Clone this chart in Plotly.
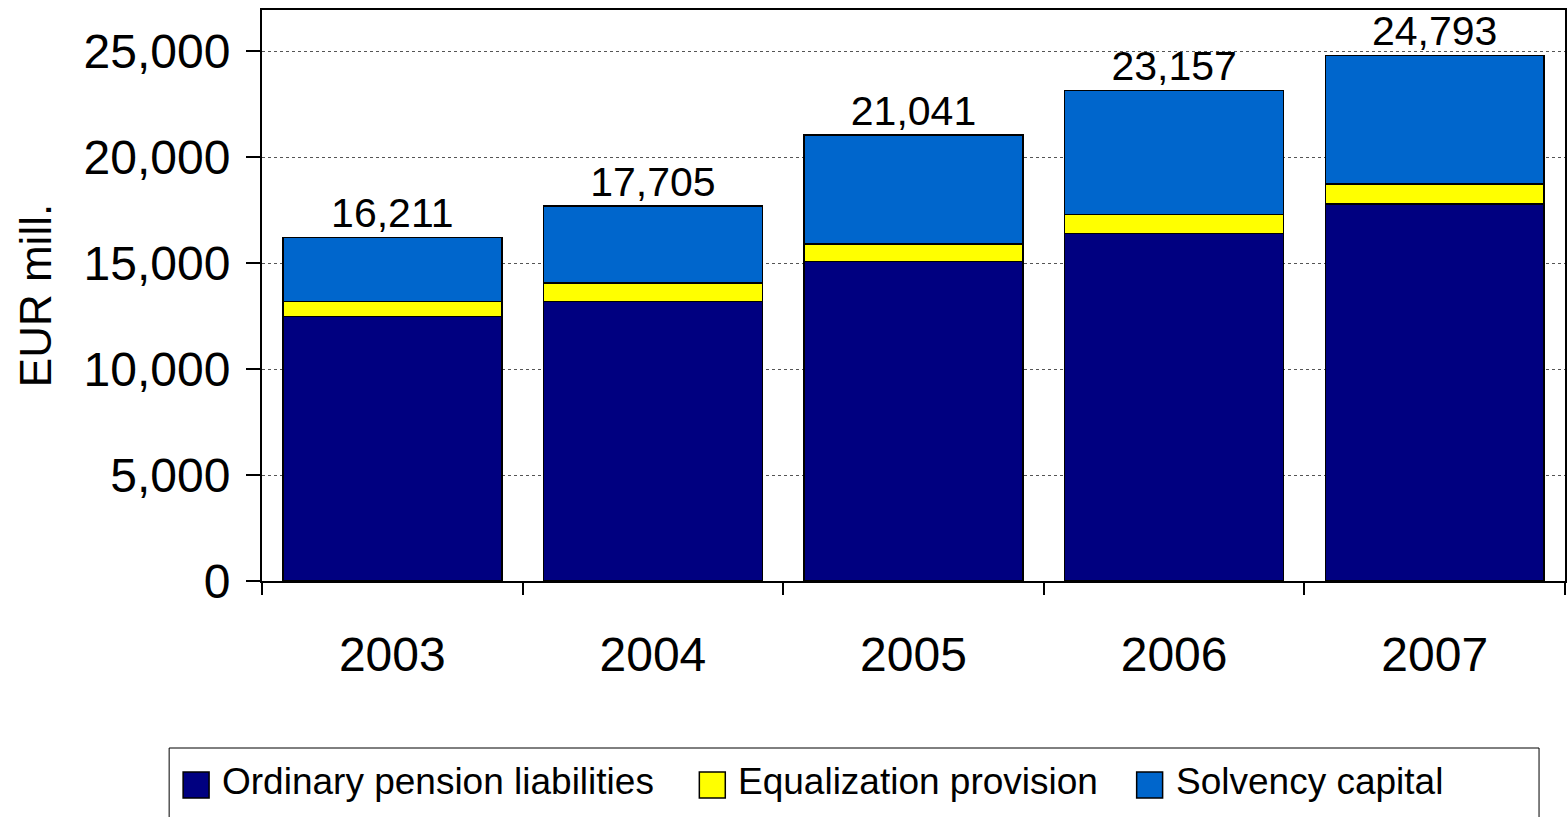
import plotly.graph_objects as go

# Pension liability components, EUR million
years = ["2003", "2004", "2005", "2006", "2007"]
ordinary_pension = [12480, 13190, 15080, 16400, 17790]
equalization_provision = [710, 865, 830, 895, 945]
solvency_capital = [3021, 3650, 5131, 5862, 6058]

series_names = ["Ordinary pension liabilities", "Equalization provision", "Solvency capital"]
series_colors = ["#000080", "#FFFF00", "#0066CC"]
series_values = [ordinary_pension, equalization_provision, solvency_capital]

totals = [a + b + c for a, b, c in zip(ordinary_pension, equalization_provision, solvency_capital)]

FONT = "Liberation Sans, Arial, sans-serif"
W, H = 1568, 817
ML, MR, MT, MB = 262, 1, 10, 236
PW, PH = W - ML - MR, H - MT - MB


def px_x(x):
    return (x - ML) / PW


def px_y(y):
    return (H - MB - y) / PH


fig = go.Figure()
for name, color, vals in zip(series_names, series_colors, series_values):
    fig.add_trace(go.Bar(
        x=years, y=vals, name=name,
        marker=dict(color=color, line=dict(color="black", width=1.5)),
        showlegend=False,
    ))

# Totals above each stack
fig.add_trace(go.Scatter(
    x=years, y=totals, mode="text",
    text=[f"{t:,}" for t in totals], textposition="top center",
    textfont=dict(family=FONT, size=41, color="black"),
    showlegend=False, hoverinfo="skip", cliponaxis=False,
))

# Legend box with swatches and labels
fig.add_shape(type="rect", xref="paper", yref="paper",
              x0=px_x(169), x1=px_x(1541), y0=px_y(748), y1=px_y(840),
              line=dict(color="black", width=1), fillcolor="white", layer="above")
swatch_x = [183, 700, 1138]
for sx, name, color in zip(swatch_x, series_names, series_colors):
    fig.add_shape(type="rect", xref="paper", yref="paper",
                  x0=px_x(sx), x1=px_x(sx + 26), y0=px_y(798), y1=px_y(772),
                  line=dict(color="black", width=1.5), fillcolor=color, layer="above")
    fig.add_annotation(xref="paper", yref="paper", x=px_x(sx + 37), y=px_y(781),
                       text=name, showarrow=False, xanchor="left", yanchor="middle",
                       font=dict(family=FONT, size=37, color="black"))

fig.update_layout(
    width=W, height=H,
    margin=dict(l=ML, r=MR, t=MT, b=MB),
    barmode="stack", bargap=0.16,
    plot_bgcolor="white", paper_bgcolor="white",
    font=dict(family=FONT, color="black"),
)
fig.update_xaxes(
    type="category", showline=True, linecolor="black", linewidth=2, mirror=True,
    ticks="outside", tickson="boundaries", ticklen=12, tickcolor="black", tickwidth=1.5,
    tickfont=dict(family=FONT, size=48, color="black"), ticklabelstandoff=30,
    tickangle=0, showgrid=False,
)
fig.update_yaxes(
    range=[0, 26950], dtick=5000, tickformat=",d",
    showline=True, linecolor="black", linewidth=2, mirror=True,
    ticks="outside", ticklen=14, tickcolor="black", tickwidth=1.5,
    tickfont=dict(family=FONT, size=48, color="black"), ticklabelstandoff=6,
    showgrid=True, gridcolor="#555555", gridwidth=1, griddash="3px,3px",
    zeroline=False,
    title=dict(text="EUR mill.", font=dict(family=FONT, size=44, color="black"), standoff=18),
)

fig.write_html("out.html")
